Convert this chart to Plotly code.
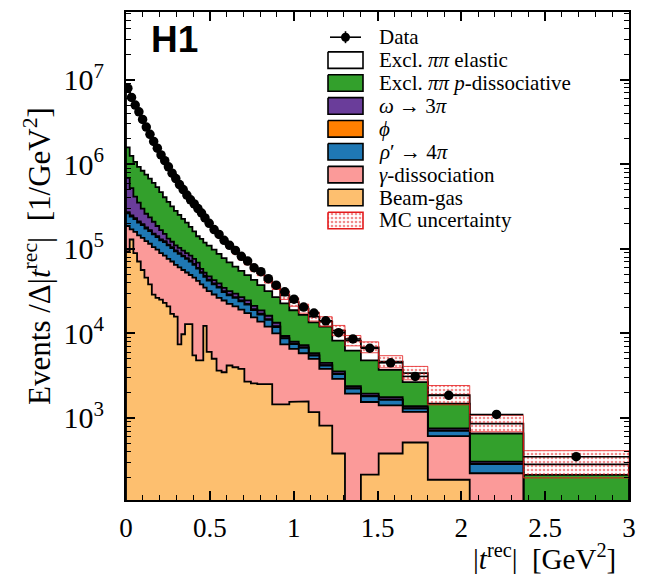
import plotly.graph_objects as go

# ---------------- values ----------------
edges = [0.0, 0.022, 0.044, 0.066, 0.088, 0.11, 0.132, 0.154, 0.176, 0.198, 0.22,
         0.242, 0.264, 0.286, 0.308, 0.33, 0.352, 0.374, 0.396, 0.418, 0.44,
         0.461, 0.481, 0.511, 0.54, 0.57, 0.6, 0.635, 0.67, 0.706, 0.745, 0.783,
         0.826, 0.872, 0.92, 0.974, 1.03, 1.089, 1.153, 1.23, 1.306, 1.401, 1.507,
         1.65, 1.8, 2.05, 2.37, 3.0]

data = [7.94e6, 6.17e6, 5.01e6, 4.17e6, 3.39e6, 2.75e6, 2.26e6, 1.86e6, 1.55e6, 1.29e6,
        1.10e6, 9.33e5, 7.85e5, 6.76e5, 5.75e5, 5.01e5, 4.32e5, 3.80e5, 3.39e5, 2.99e5,
        2.65e5, 2.32e5, 2.00e5, 1.69e5, 1.48e5, 1.26e5, 1.10e5, 9.57e4, 8.15e4, 7.16e4,
        5.97e4, 5.36e4, 4.44e4, 3.72e4, 3.10e4, 2.54e4, 2.05e4, 1.74e4, 1.41e4, 1.02e4,
        8.59e3, 6.67e3, 4.49e3, 3.10e3, 1.85e3, 1.10e3, 348]

elastic = [6.04e6, 4.66e6, 3.74e6, 3.07e6, 2.41e6, 1.88e6, 1.49e6, 1.18e6, 9.51e5, 7.70e5,
           6.58e5, 5.41e5, 4.38e5, 3.67e5, 3.01e5, 2.54e5, 2.11e5, 1.83e5, 1.63e5, 1.44e5,
           1.25e5, 1.05e5, 8.36e4, 6.46e4, 5.49e4, 4.34e4, 3.64e4, 3.02e4, 2.32e4, 1.97e4,
           1.46e4, 1.43e4, 1.10e4, 8.8e3, 5.62e3, 4.71e3, 3.0e3, 2.31e3, 1.8e3, 2.6e3,
           1.95e3, 2.05e3, 910, 740, 384, 204, 71]

pdiss = [893000, 734000, 655000, 578000, 539000, 496000, 442000, 394000, 351000, 302000,
         257000, 226000, 196000, 172000, 149000, 131000, 115000, 98900, 84600, 72100,
         72700, 66200, 61600, 55100, 48200, 43000, 37600, 32200, 28000, 24400,
         21800, 18500, 15400, 13500, 13300, 10800, 9360, 7640, 7530, 4650,
         3870, 2860, 1950, 1270, 723, 350, 212]

omega = [416400, 273600, 182500, 141000, 102500, 81000, 68500, 57600, 45000, 37200,
         27000, 20000, 16500, 14100, 13200, 12300, 11500, 10700, 10000, 9100,
         4900, 4500, 4100, 3730, 3400, 3030, 2770, 2580, 2360, 2150,
         1830, 1630, 1420, 1180, 500, 430, 400, 330, 250, 200,
         130, 110, 100, 77, 42, 17, 0]

phi = [9000, 8000, 7200, 6400, 5600, 4800, 4000, 3400, 3170, 2900,
       2760, 2520, 2350, 2150, 2000, 1870, 1750, 1630, 1520, 1390,
       1150, 1050, 960, 870, 800, 710, 650, 600, 550, 500,
       430, 380, 330, 280, 97, 83, 78, 63, 48, 38,
       26, 21, 19, 15, 8, 3, 0]

rhop = [76800, 70100, 65400, 59700, 55600, 50800, 47400, 43200, 40300, 36800,
        37000, 33700, 31500, 28700, 26800, 25100, 23400, 21800, 19000, 16500,
        14000, 12000, 10500, 9200, 8400, 6400, 5800, 5400, 4900, 4500,
        3400, 2900, 2400, 1900, 1300, 900, 940, 470, 370, 410,
        280, 260, 230, 110, 93, 63, 0]

gdiss = [92900, 41000, 69400, 73700, 78700, 77300, 76800, 75900, 71400, 64000,
         60300, 55000, 53800, 48800, 52900, 46400, 39600, 36100, 40200, 36900,
         33200, 22400, 25600, 23800, 22700, 21000, 18200, 16900, 15300, 14700,
         12900, 11300, 9500, 8550, 5960, 5000, 4250, 3820, 2990, 2520,
         1940, 1330, 1030, 665, 424, 222, 0]

beamgas = [93300, 128800, 89100, 70800, 56200, 45700, 38000, 28800, 26300, 25100,
           22900, 20900, 17000, 15800, 7410, 9770, 12900, 12900, 5500, 4790,
           4790, 12300, 6030, 5010, 3630, 3470, 4170, 3980, 3800, 2690,
           2570, 2510, 2510, 1450, 1450, 1550, 1570, 1175, 813, 380,
           0, 214, 380, 513, 186, 0, 0]

mc_unc = [0.02, 0.02, 0.02, 0.02, 0.02, 0.02, 0.02, 0.02, 0.02, 0.02,
          0.03, 0.03, 0.03, 0.03, 0.03, 0.03, 0.03, 0.03, 0.03, 0.03,
          0.04, 0.04, 0.04, 0.05, 0.05, 0.05, 0.05, 0.06, 0.06, 0.06,
          0.07, 0.07, 0.08, 0.08, 0.12, 0.12, 0.13, 0.13, 0.14, 0.15,
          0.15, 0.16, 0.18, 0.20, 0.30, 0.25, 0.45]

labels = {
    "data": "Data",
    "elastic": "Excl. <i>ππ</i> elastic",
    "pdiss": "Excl. <i>ππ p</i>-dissociative",
    "omega": "<i>ω</i> → 3<i>π</i>",
    "phi": "<i>ϕ</i>",
    "rhop": "<i>ρ</i>′ → 4<i>π</i>",
    "gdiss": "<i>γ</i>-dissociation",
    "beamgas": "Beam-gas",
    "mc": "MC uncertainty",
}

colors = {
    "elastic": "#ffffff", "pdiss": "#33a02c", "omega": "#6a3d9a", "phi": "#ff7f00",
    "rhop": "#1f78b4", "gdiss": "#fb9a99", "beamgas": "#fdbf6f",
}

# stacking order, bottom -> top
stack = [("beamgas", beamgas), ("gdiss", gdiss), ("rhop", rhop), ("phi", phi),
         ("omega", omega), ("pdiss", pdiss), ("elastic", elastic)]

FONT = "Liberation Serif"
nb = len(data)
FLOOR = 1.0

cum = []
running = [0.0] * nb
for key, vals in stack:
    running = [r + v for r, v in zip(running, vals)]
    cum.append((key, list(running)))


def step_poly(levels):
    xs = [edges[0]]
    ys = [FLOOR]
    for i in range(nb):
        y = max(levels[i], FLOOR)
        xs += [edges[i], edges[i + 1]]
        ys += [y, y]
    xs.append(edges[-1])
    ys.append(FLOOR)
    return xs, ys


fig = go.Figure()

# stacked histograms: draw the top-most cumulative level first
for key, lev in reversed(cum):
    xs, ys = step_poly(lev)
    fig.add_trace(go.Scatter(x=xs, y=ys, mode="lines", fill="toself",
                             fillcolor=colors[key], line=dict(color="black", width=1.8),
                             showlegend=False, hoverinfo="skip"))

# MC uncertainty band
total = cum[-1][1]
hi = [t * (1 + u) for t, u in zip(total, mc_unc)]
lo = [t / (1 + u) for t, u in zip(total, mc_unc)]
bx, by = [], []
for i in range(nb):
    bx += [edges[i], edges[i + 1]]
    by += [hi[i], hi[i]]
for i in reversed(range(nb)):
    bx += [edges[i + 1], edges[i]]
    by += [lo[i], lo[i]]
bx.append(bx[0]); by.append(by[0])
fig.add_trace(go.Scatter(x=bx, y=by, mode="lines", fill="toself",
                         fillcolor="rgba(0,0,0,0)",
                         fillpattern=dict(shape=".", fgcolor="#e31a1c",
                                          bgcolor="rgba(255,255,255,0)", size=4, solidity=0.35),
                         line=dict(color="rgba(227,26,28,0.8)", width=1),
                         showlegend=False, hoverinfo="skip"))

# data
centers = [(edges[i] + edges[i + 1]) / 2 for i in range(nb)]
halfw = [(edges[i + 1] - edges[i]) / 2 for i in range(nb)]
fig.add_trace(go.Scatter(x=centers, y=data, mode="markers",
                         marker=dict(color="black", size=9.5),
                         error_x=dict(type="data", array=halfw, color="black",
                                      thickness=1.6, width=0),
                         showlegend=False, hoverinfo="skip"))

# ---------------- hand-built legend (overlay axes = plot-area fractions) ----------------
L, R, T, B = 126, 629, 10, 500
W, H = R - L, B - T


def fx(px):
    return (px - L) / W


def fy(py):
    return (B - py) / H


row0, drow = 35.3, 23.0
bx0, bx1, bh = 328, 363, 16.6
order = ["data", "elastic", "pdiss", "omega", "phi", "rhop", "gdiss", "beamgas", "mc"]
annotations = []
for k, key in enumerate(order):
    cy = row0 + drow * k
    if key == "data":
        fig.add_trace(go.Scatter(x=[fx(bx0 + 2), fx(bx1 - 2)], y=[fy(cy), fy(cy)],
                                 mode="lines", line=dict(color="black", width=1.6),
                                 xaxis="x2", yaxis="y2", showlegend=False, hoverinfo="skip"))
        fig.add_trace(go.Scatter(x=[fx((bx0 + bx1) / 2)] * 2, y=[fy(cy - 6), fy(cy + 6)],
                                 mode="lines", line=dict(color="black", width=1.6),
                                 xaxis="x2", yaxis="y2", showlegend=False, hoverinfo="skip"))
        fig.add_trace(go.Scatter(x=[fx((bx0 + bx1) / 2)], y=[fy(cy)], mode="markers",
                                 marker=dict(color="black", size=9),
                                 xaxis="x2", yaxis="y2", showlegend=False, hoverinfo="skip"))
    else:
        rx = [fx(bx0), fx(bx1), fx(bx1), fx(bx0), fx(bx0)]
        ry = [fy(cy - bh / 2), fy(cy - bh / 2), fy(cy + bh / 2), fy(cy + bh / 2), fy(cy - bh / 2)]
        if key == "mc":
            fig.add_trace(go.Scatter(x=rx, y=ry, mode="lines", fill="toself",
                                     fillcolor="rgba(0,0,0,0)",
                                     fillpattern=dict(shape=".", fgcolor="#e31a1c",
                                                      bgcolor="rgba(255,255,255,0)",
                                                      size=4, solidity=0.35),
                                     line=dict(color="#e31a1c", width=1.6),
                                     xaxis="x2", yaxis="y2", showlegend=False, hoverinfo="skip"))
        else:
            fig.add_trace(go.Scatter(x=rx, y=ry, mode="lines", fill="toself",
                                     fillcolor=colors[key], line=dict(color="black", width=1.6),
                                     xaxis="x2", yaxis="y2", showlegend=False, hoverinfo="skip"))
    annotations.append(dict(x=fx(378), y=fy(cy), xref="paper", yref="paper",
                            text=labels[key], showarrow=False, xanchor="left",
                            yanchor="middle", borderpad=0,
                            font=dict(family=FONT, size=21, color="black")))

annotations.append(dict(x=fx(149), y=fy(38), xref="paper", yref="paper", text="<b>H1</b>",
                        showarrow=False, xanchor="left", yanchor="middle",
                        font=dict(family="Liberation Sans", size=37, color="black")))
annotations.append(dict(x=fx(617), y=fy(557), xref="paper", yref="paper",
                        text="|<i>t</i><sup>rec</sup>|  [GeV<sup>2</sup>]",
                        showarrow=False, xanchor="right", yanchor="middle", borderpad=0,
                        font=dict(family=FONT, size=29, color="black")))

ytickvals = [1e3, 1e4, 1e5, 1e6, 1e7]
yticktext = ["10<sup>3</sup>", "10<sup>4</sup>", "10<sup>5</sup>", "10<sup>6</sup>", "10<sup>7</sup>"]
yminor = [m * 10 ** k for k in range(2, 8) for m in range(2, 10)]

fig.update_layout(
    width=657, height=574,
    margin=dict(l=L, r=657 - R, t=T, b=574 - B),
    paper_bgcolor="white", plot_bgcolor="white",
    font=dict(family=FONT, color="black"),
    showlegend=False,
    annotations=annotations,
    xaxis=dict(range=[0, 3], tickvals=[0, 0.5, 1, 1.5, 2, 2.5, 3],
               ticktext=["0", "0.5", "1", "1.5", "2", "2.5", "3"],
               ticks="inside", ticklen=9, tickwidth=1.5, tickcolor="black",
               showline=True, linewidth=2, linecolor="black", mirror="ticks",
               showgrid=False, zeroline=False,
               tickfont=dict(family=FONT, size=27), ticklabelstandoff=3,
               minor=dict(ticks="inside", ticklen=5, tickwidth=1.2, tickcolor="black",
                          dtick=0.1, showgrid=False)),
    yaxis=dict(type="log", range=[2.03, 7.80], tickvals=ytickvals, ticktext=yticktext,
               ticks="inside", ticklen=9, tickwidth=1.5, tickcolor="black",
               showline=True, linewidth=2, linecolor="black", mirror="ticks",
               showgrid=False, zeroline=False,
               tickfont=dict(family=FONT, size=30), ticklabelstandoff=14,
               minor=dict(ticks="inside", ticklen=5, tickwidth=1.2, tickcolor="black",
                          tickvals=yminor, showgrid=False),
               title=dict(text="Events /Δ|<i>t</i><sup>rec</sup>|  [1/GeV<sup>2</sup>]",
                          font=dict(family=FONT, size=31), standoff=4)),
    xaxis2=dict(range=[0, 1], overlaying="x", visible=False, anchor="y2"),
    yaxis2=dict(range=[0, 1], overlaying="y", visible=False, anchor="x2"),
)

fig.write_html("out.html")
